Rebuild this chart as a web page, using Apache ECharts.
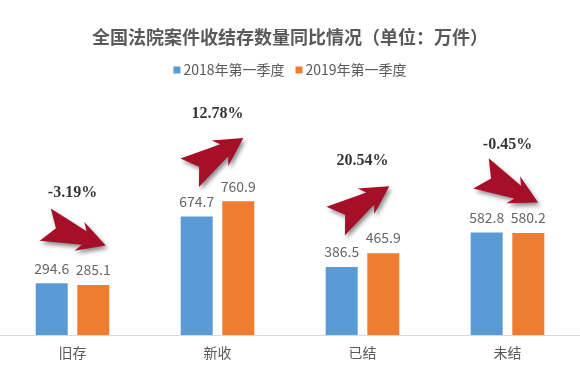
<!DOCTYPE html>
<html>
<head>
<meta charset="utf-8">
<script src="https://cdn.jsdelivr.net/npm/echarts@6/dist/echarts.min.js"></script>
<style>html,body{margin:0;padding:0;background:#fff;}#c{width:580px;height:373px;}</style>
</head>
<body>
<div id="c"></div>
<script>
const categories = ['旧存', '新收', '已结', '未结'];
const seriesNames = ['2018年第一季度', '2019年第一季度'];
const values2018 = [294.6, 674.7, 386.5, 582.8];
const values2019 = [285.1, 760.9, 465.9, 580.2];
const changeLabels = ['-3.19%', '12.78%', '20.54%', '-0.45%'];

// annotation layout (arrow anchors in value space, rotation in degrees)
const arrowAnchor = [569, 1022, 748, 837];
const arrowShiftX = [3, -1, 0, 2];
const arrowRotate = [-19, 33, 33, -27];
const pctAnchor = [808, 1258, 990, 1081];
const pctShiftX = [-2, 1, -2, -6];

const arrowPath = 'path://M0,0 L40,11 L35,2 L62,19 L35,36 L40,27 L0,38 L11,19 Z';
const txt = '#595959';
const font = '"Noto Sans CJK SC", "Noto Sans", sans-serif';

const chart = echarts.init(document.getElementById('c'), null, {renderer: 'canvas'});
chart.setOption({
  animation: false,
  backgroundColor: '#ffffff',
  title: {
    text: '全国法院案件收结存数量同比情况（单位：万件）',
    left: 'center',
    top: 23,
    textStyle: {fontFamily: font, fontSize: 18, fontWeight: 'bold', color: txt}
  },
  legend: {
    data: seriesNames,
    top: 58,
    left: 'center',
    itemWidth: 7,
    itemHeight: 7,
    itemGap: 11,
    icon: 'rect',
    textStyle: {fontFamily: font, fontSize: 14, color: txt, padding: [0, 0, 0, -2]}
  },
  grid: {left: 0, right: 0, top: 89, bottom: 38},
  xAxis: {
    type: 'category',
    data: categories,
    axisLine: {lineStyle: {color: '#d9d9d9', width: 1}},
    axisTick: {show: false},
    axisLabel: {fontFamily: font, fontSize: 14, color: txt, margin: 11}
  },
  yAxis: {
    type: 'value', min: 0, max: 1400, show: false,
    splitLine: {show: false}
  },
  series: [
    {
      name: seriesNames[0], type: 'bar', data: values2018,
      barWidth: 32, barGap: '30%',
      itemStyle: {color: '#5b9bd5'},
      label: {show: true, position: 'top', distance: 8, fontFamily: font, fontSize: 14, color: '#666666'}
    },
    {
      name: seriesNames[1], type: 'bar', data: values2019,
      barWidth: 32, barGap: '30%',
      itemStyle: {color: '#ed7d31'},
      label: {show: true, position: 'top', distance: 8, fontFamily: font, fontSize: 14, color: '#666666'}
    },
    {
      name: 'arrows', type: 'scatter', z: 5,
      data: categories.map((c, i) => ({
        value: [i, arrowAnchor[i]],
        symbolRotate: arrowRotate[i],
        symbolOffset: [arrowShiftX[i], 0]
      })),
      symbol: arrowPath,
      symbolSize: [64, 34],
      itemStyle: {
        color: '#a50f28', opacity: 1,
        shadowBlur: 4, shadowColor: 'rgba(0,0,0,0.45)', shadowOffsetX: 2, shadowOffsetY: 3
      },
      silent: true
    },
    {
      name: 'pct', type: 'scatter', z: 6,
      data: categories.map((c, i) => ({
        value: [i, pctAnchor[i]],
        label: {offset: [pctShiftX[i], 0]}
      })),
      symbolSize: 1,
      itemStyle: {color: 'rgba(0,0,0,0)'},
      labelLayout: {hideOverlap: false},
      label: {
        show: true, position: 'inside',
        formatter: p => changeLabels[p.dataIndex],
        fontFamily: '"Liberation Serif", "DejaVu Serif", serif',
        fontWeight: 'bold', fontSize: 16, color: '#000000'
      },
      silent: true
    }
  ]
});
</script>
</body>
</html>
